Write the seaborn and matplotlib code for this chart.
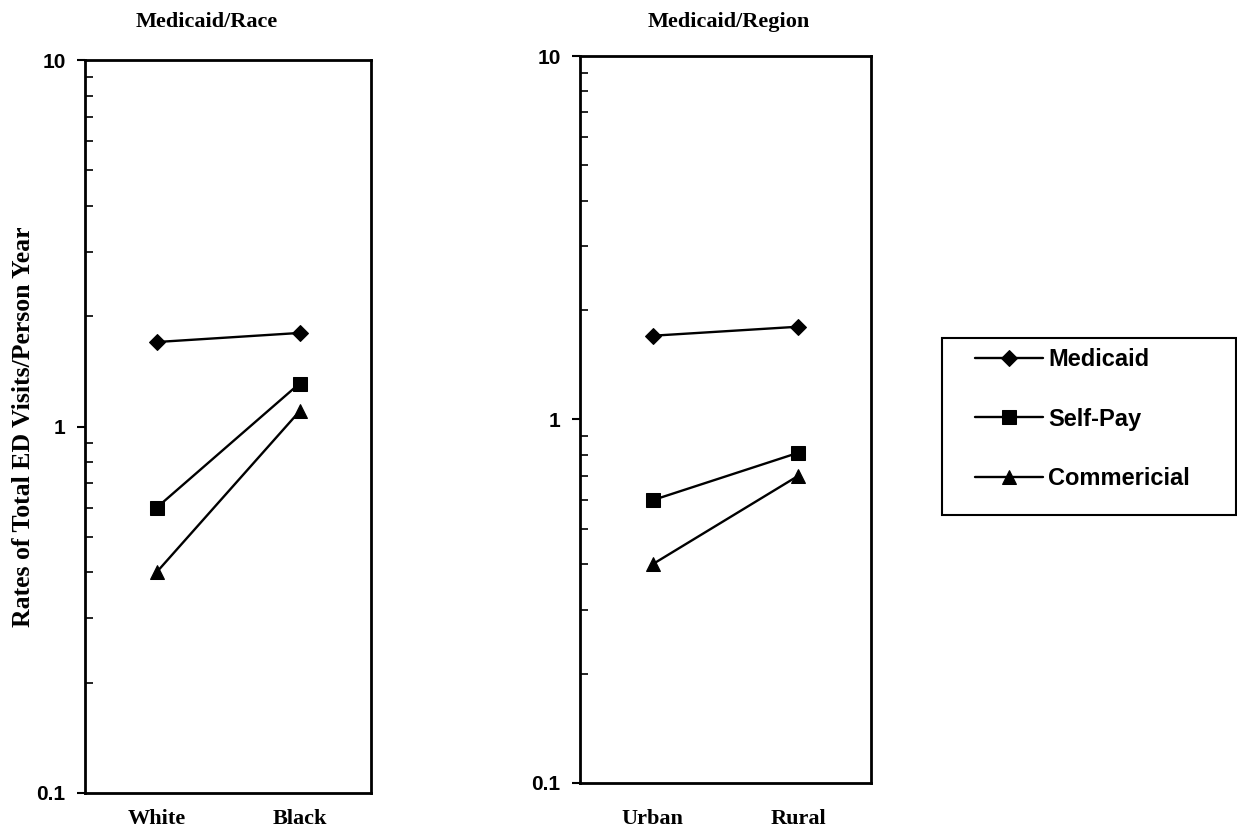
import matplotlib
matplotlib.use("Agg")
import matplotlib.pyplot as plt
import matplotlib.patches as mpatches
import seaborn as sns
import pandas as pd
from matplotlib.ticker import FixedLocator, NullFormatter, FixedFormatter

sns.set_theme(style="white")
plt.rcParams['font.family'] = ['Liberation Sans', 'DejaVu Sans']
plt.rcParams['text.color'] = 'black'
plt.rcParams['axes.labelcolor'] = 'black'
plt.rcParams['xtick.color'] = 'black'
plt.rcParams['ytick.color'] = 'black'

series = ["Medicaid", "Self-Pay", "Commericial"]
markers = ["D", "s", "^"]
marker_sizes = [8, 10, 10]

race_cats = ["White", "Black"]
race_medicaid = [1.70, 1.80]
race_selfpay = [0.60, 1.31]
race_commercial = [0.40, 1.10]

region_cats = ["Urban", "Rural"]
region_medicaid = [1.70, 1.80]
region_selfpay = [0.60, 0.81]
region_commercial = [0.40, 0.70]

ytick_vals = [0.1, 1, 10]
ytick_labels = ["0.1", "1", "10"]

fig = plt.figure(figsize=(12.37, 8.31), dpi=100)
W, H = 1237, 831
ax1 = fig.add_axes([85 / W, 1 - 793 / H, (371 - 85) / W, (793 - 60) / H])
ax2 = fig.add_axes([580 / W, 1 - 783 / H, (871 - 580) / W, (783 - 56) / H])

panels = [
    (ax1, race_cats, [race_medicaid, race_selfpay, race_commercial], "Medicaid/Race", 0.427, 1.052, 11.5),
    (ax2, region_cats, [region_medicaid, region_selfpay, region_commercial], "Medicaid/Region", 0.512, 1.047, 19),
]

serif = ['Liberation Serif', 'DejaVu Serif']
for ax, cats, vals, title, tx, ty, xpad in panels:
    for name, v, m, ms in zip(series, vals, markers, marker_sizes):
        df = pd.DataFrame({"cat": cats, "val": v})
        sns.lineplot(data=df, x="cat", y="val", ax=ax, color="black", marker=m,
                     markersize=ms, markeredgecolor="black", linewidth=1.7,
                     label=name, legend=False)
    ax.set_yscale("log")
    ax.set_ylim(0.1, 10)
    ax.set_xlim(-0.5, 1.5)
    ax.yaxis.set_major_locator(FixedLocator(ytick_vals))
    ax.yaxis.set_major_formatter(FixedFormatter(ytick_labels))
    minors = [k * 10.0 ** e for e in (-1, 0) for k in range(2, 10)]
    ax.yaxis.set_minor_locator(FixedLocator(minors))
    ax.yaxis.set_minor_formatter(NullFormatter())
    ax.tick_params(axis="y", which="major", direction="out", length=6, width=1.5,
                   left=True, labelsize=15, pad=8, colors="black")
    ax.tick_params(axis="y", which="minor", direction="in", length=6, width=1.2,
                   left=True, colors="black")
    ax.tick_params(axis="x", which="both", length=0, pad=xpad, colors="black")
    for lbl in ax.get_yticklabels():
        lbl.set_fontweight("bold")
    ax.set_xticks([0, 1])
    ax.set_xticklabels(cats, fontfamily=serif, fontweight="bold", fontsize=16, color="black")
    for s in ax.spines.values():
        s.set_visible(True)
        s.set_color("black")
        s.set_linewidth(2)
    ax.set_xlabel("")
    ax.set_ylabel("")
    ax.text(tx, ty, title, transform=ax.transAxes, ha="center", va="center",
            fontfamily=serif, fontweight="bold", fontsize=16, color="black")
    ax.grid(False)

ax1.set_ylabel("Rates of Total ED Visits/Person Year", fontfamily=serif,
               fontweight="bold", fontsize=18.5, labelpad=1, color="black")

handles = ax1.get_lines()[:3]
leg = fig.legend(handles, series, loc="upper left",
                 bbox_to_anchor=(975 / W, 1 - 348 / H),
                 frameon=False,
                 prop={'family': ['Liberation Sans'], 'weight': 'bold', 'size': 17},
                 labelspacing=1.55, handlelength=2.9, handletextpad=0.2,
                 borderpad=0, borderaxespad=0, labelcolor="black")
fig.patches.append(mpatches.Rectangle((942 / W, 1 - 515 / H), 294 / W, 177 / H,
                                      transform=fig.transFigure, fill=False,
                                      edgecolor="black", linewidth=1.5))

fig.savefig("out.png", dpi=100)
